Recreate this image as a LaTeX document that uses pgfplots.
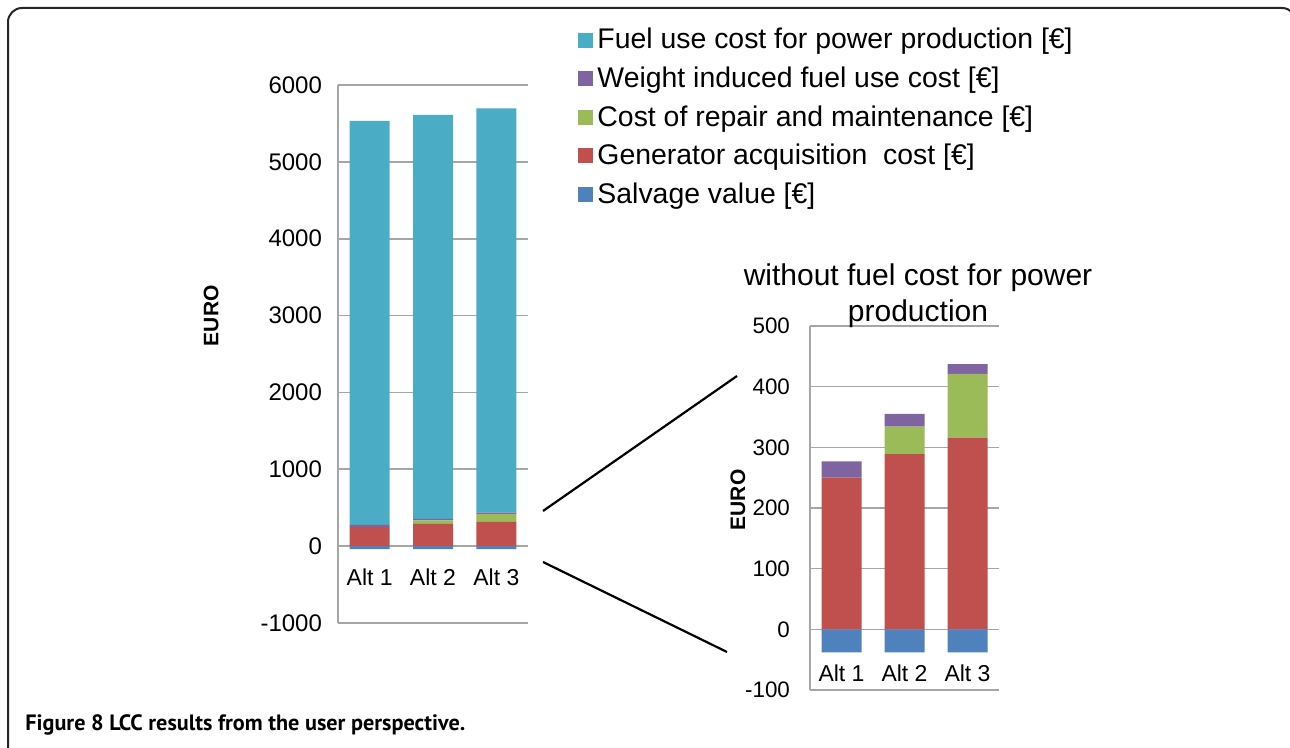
\documentclass[border=0pt]{standalone}
\usepackage{fontspec}
\setmainfont{Liberation Sans}
\newfontfamily\capfont{PT Sans}
\usepackage{pgfplots}
\pgfplotsset{compat=1.18}
\definecolor{fuel}{HTML}{4BACC6}
\definecolor{weight}{HTML}{8064A2}
\definecolor{repair}{HTML}{9BBB59}
\definecolor{gen}{HTML}{C0504D}
\definecolor{salv}{HTML}{4F81BD}
\definecolor{gridc}{HTML}{A6A6A6}
\pgfplotsset{
 lcc/.style={
  scale only axis, anchor=south west,
  xmin=-0.5, xmax=2.5, xtick={0,1,2}, xticklabels={Alt 1,Alt 2,Alt 3},
  axis y line*=left, axis x line*=bottom,
  axis line style={-, draw=gridc, line width=0.8pt},
  ymajorgrids, major grid style={gridc, line width=0.8pt},
  tick style={draw=none},
  ybar stacked, bar width=20pt,
  xticklabel style={font=\fontsize{11.5}{13}\selectfont},
  /pgf/number format/assume math mode=true, /pgf/number format/1000 sep={},
  ylabel={EURO}, ylabel style={font=\bfseries\fontsize{10.5}{12}\selectfont, anchor=center},
 },
 salvax/.style={
  scale only axis, anchor=south west, hide axis,
  xmin=-0.5, xmax=2.5, ybar, bar width=20pt,
 },
}
\begin{document}
\begin{tikzpicture}
\useasboundingbox (0,0) rectangle (645pt,374pt);
\draw[line width=1pt, rounded corners=7pt, black!85] (4pt,-20pt) rectangle (648pt,370pt);
% ---------- left chart ----------
\begin{axis}[lcc, at={(169pt,62.5pt)}, width=95pt, height=269pt,
  ymin=-1000, ymax=6000, ytick distance=1000,
  xticklabel style={yshift=30.5pt},
  yticklabel style={xshift=-4.5pt, font=\fontsize{12}{14}\selectfont},
  ylabel style={at={(axis description cs:-0.668,0.571)}},
  legend style={draw=none, fill=none, at={(axis description cs:1.232,1.121)}, anchor=north west,
    font=\fontsize{14.2}{17}\selectfont, row sep=3.5pt},
  legend cell align=left, reverse legend,
  legend image code/.code={\fill[#1] (0pt,-3.75pt) rectangle (7.5pt,3.75pt);}]
\addlegendimage{fill=salv,draw=none}
\addlegendentry{Salvage value [€]}
\addplot[fill=gen, draw=none] coordinates {(0,250) (1,289) (2,316)};
\addlegendentry{Generator acquisition\ \ cost [€]}
\addplot[fill=repair, draw=none] coordinates {(0,0) (1,45) (2,105)};
\addlegendentry{Cost of repair and maintenance [€]}
\addplot[fill=weight, draw=none] coordinates {(0,27) (1,21) (2,16)};
\addlegendentry{Weight induced fuel use cost [€]}
\addplot[fill=fuel, draw=none] coordinates {(0,5255) (1,5255) (2,5260)};
\addlegendentry{Fuel use cost for power production [€]}
\end{axis}
\begin{axis}[salvax, at={(169pt,62.5pt)}, width=95pt, height=269pt, ymin=-1000, ymax=6000]
\addplot[fill=salv, draw=none] coordinates {(0,-38) (1,-38) (2,-38)};
\end{axis}
% ---------- right chart ----------
\begin{axis}[lcc, at={(405pt,29pt)}, width=94.5pt, height=182pt,
  ymin=-100, ymax=500, ytick distance=100,
  xticklabel style={yshift=16pt},
  yticklabel style={xshift=-6.5pt, font=\fontsize{11.2}{13}\selectfont},
  ylabel style={at={(axis description cs:-0.381,0.522)}}]
\addplot[fill=gen, draw=none] coordinates {(0,250) (1,289) (2,316)};
\addplot[fill=repair, draw=none] coordinates {(0,0) (1,45) (2,105)};
\addplot[fill=weight, draw=none] coordinates {(0,27) (1,21) (2,16)};
\end{axis}
\begin{axis}[salvax, at={(405pt,29pt)}, width=94.5pt, height=182pt, ymin=-100, ymax=500]
\addplot[fill=salv, draw=none] coordinates {(0,-38) (1,-38) (2,-38)};
\end{axis}
\node[align=center, font=\fontsize{15}{18}\selectfont] at (459pt,226pt) {without fuel cost for power\\production};
% connector lines
\draw[line width=1.1pt] (271.5pt,118.5pt) -- (368.5pt,186pt);
\draw[line width=1.1pt] (271.5pt,93pt) -- (363.5pt,48pt);
% caption
\node[anchor=base west, inner sep=0pt, font=\capfont\bfseries\fontsize{11.1}{13}\selectfont] at (12.5pt,8.5pt) {Figure 8 LCC results from the user perspective.};
\end{tikzpicture}
\end{document}
